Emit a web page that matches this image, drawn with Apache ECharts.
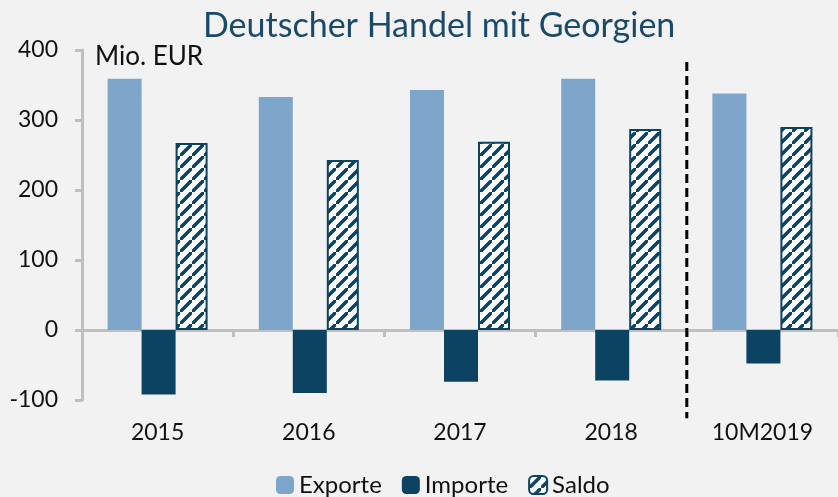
<!DOCTYPE html>
<html>
<head>
<meta charset="utf-8">
<script src="https://cdn.jsdelivr.net/npm/echarts@6/dist/echarts.min.js"></script>
<style>
html,body{margin:0;padding:0;background:#F2F2F2;}
#c{width:838px;height:497px;}
</style>
</head>
<body>
<div id="c"></div>
<script>
const categories = ['2015', '2016', '2017', '2018', '10M2019'];
const exporte = [359, 333, 343, 359, 338];
const importe = [-92, -90, -74, -72, -48];
const saldo = [267, 243, 269, 287, 290];
const yTicks = [-100, 0, 100, 200, 300, 400];

const FONT = 'Lato';
const DARK = '#0C4262';

function stripe() {
  const s = 12;
  const cv = document.createElement('canvas');
  cv.width = s; cv.height = s;
  const g = cv.getContext('2d');
  g.fillStyle = '#ffffff';
  g.fillRect(0, 0, s, s);
  g.strokeStyle = DARK;
  g.lineWidth = 3.5;
  g.beginPath();
  g.moveTo(-s, s * 2); g.lineTo(s * 2, -s);
  g.moveTo(-s * 2, s); g.lineTo(s, -s * 2);
  g.moveTo(0, s * 3); g.lineTo(s * 3, 0);
  g.stroke();
  return cv;
}
const pattern = { image: stripe(), repeat: 'repeat' };

const chart = echarts.init(document.getElementById('c'), null, { renderer: 'canvas' });
chart.setOption({
  backgroundColor: '#F2F2F2',
  animation: false,
  title: {
    text: 'Deutscher Handel mit Georgien',
    left: 198,
    top: 4,
    textStyle: { fontFamily: FONT, fontSize: 34, fontWeight: 'normal', color: '#1A4A6A' }
  },
  legend: {
    bottom: -5,
    left: 271,
    itemWidth: 18,
    itemHeight: 18,
    itemGap: 20,
    textStyle: { fontFamily: FONT, fontSize: 24, color: '#111' },
    data: ['Exporte', 'Importe', 'Saldo']
  },
  grid: { left: 82, right: 0, top: 50, bottom: 97, containLabel: false, outerBoundsMode: 'none' },
  xAxis: {
    type: 'category',
    data: categories,
    axisLine: { onZero: true, lineStyle: { color: '#BFBFBF', width: 3 } },
    axisTick: { show: true, length: 7, lineStyle: { color: '#BFBFBF', width: 3 } },
    axisLabel: { fontFamily: FONT, fontSize: 23, color: '#111', margin: 21 },
    splitLine: { show: false }
  },
  yAxis: {
    type: 'value',
    min: yTicks[0], max: yTicks[yTicks.length - 1], interval: 100,
    axisLine: { show: true, lineStyle: { color: '#BFBFBF', width: 3 } },
    axisTick: { show: true, length: 7, lineStyle: { color: '#BFBFBF', width: 3 } },
    axisLabel: { fontFamily: FONT, fontSize: 23, color: '#111', margin: 24 },
    splitLine: { show: false }
  },
  series: [
    { name: 'Exporte', type: 'bar', data: exporte, barWidth: 34, barGap: '0%',
      itemStyle: { color: '#7EA6CA' } },
    { name: 'Importe', type: 'bar', data: importe, barWidth: 34, barGap: '0%',
      itemStyle: { color: DARK } },
    { name: 'Saldo', type: 'bar', data: saldo, barWidth: 32, barGap: '0%',
      itemStyle: { color: pattern, borderColor: DARK, borderWidth: 2 } }
  ]
});

const x3 = chart.convertToPixel({ xAxisIndex: 0 }, categories[3]);
const x4 = chart.convertToPixel({ xAxisIndex: 0 }, categories[4]);
const xd = (x3 + x4) / 2;
const yTop = chart.convertToPixel({ yAxisIndex: 0 }, 383);
const yBot = chart.convertToPixel({ yAxisIndex: 0 }, -126);
const yMax = chart.convertToPixel({ yAxisIndex: 0 }, yTicks[yTicks.length - 1]);
chart.setOption({
  graphic: [
    { type: 'line', shape: { x1: xd, y1: yTop, x2: xd, y2: yBot },
      style: { stroke: '#000', lineWidth: 3, lineDash: [9, 5] }, z: 10 },
    { type: 'text', left: 95, top: yMax - 6,
      style: { text: 'Mio. EUR', font: '26px ' + FONT, fill: '#111' } }
  ]
});
</script>
</body>
</html>
